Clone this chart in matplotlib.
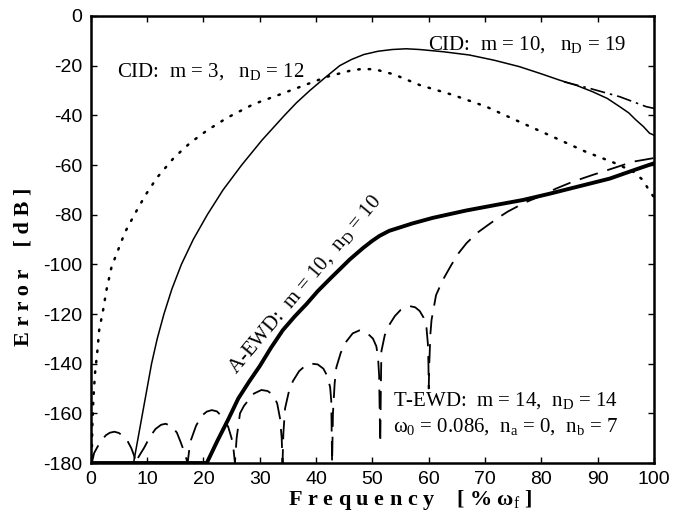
import matplotlib
matplotlib.use("Agg")
import matplotlib.pyplot as plt

plt.rcParams['font.family'] = ['Liberation Serif', 'DejaVu Serif']
plt.rcParams['mathtext.fontset'] = 'custom'
plt.rcParams['mathtext.rm'] = 'Liberation Serif'
plt.rcParams['mathtext.it'] = 'Liberation Serif:italic'
plt.rcParams['axes.unicode_minus'] = False

# CID: m = 3, nD = 12 (dotted)
cid3_x = [0.18, 0.28, 0.46, 0.76, 1.2, 1.5, 2.2, 2.8, 3.7, 4.9, 6.1, 8.0, 9.75, 11.8,
          14.8, 17.7, 20.7, 24.2, 28.9, 33.7, 37.8, 41.9, 46.1, 48.2, 50.5, 53.8, 58.4,
          64.3, 70.2, 76.1, 82.0, 87.9, 92.7, 96.2, 98.0, 99.2, 100]
cid3_y = [-177.5, -165.4, -154.6, -143.9, -134.5, -126.5, -118.4, -110.3, -101, -94,
          -87, -79, -72, -65, -57, -51, -46, -41, -35.5, -31.5, -28, -24.5, -22, -21.3,
          -21.5, -23.5, -27.8, -31.8, -36.5, -42.6, -48.6, -54.7, -58.9, -62.5, -66,
          -70.5, -73]

# CID: m = 10, nD = 19 (thin solid)
cid10_x = [0, 7.6, 8.4, 9.2, 10, 10.8, 11.8, 13, 14.4, 16.1, 18.2, 20.7, 23.5, 26.8,
           30.4, 34.4, 36.5, 38.9, 41.5, 44.2, 46.3, 48.5, 51, 53.5, 56, 58.4, 62.6,
           67.2, 71.6, 76.1, 80, 83.2, 86.3, 89.1, 91.7, 93.9, 95.5, 96.8, 98.1, 99.2,
           100]
cid10_y = [-180, -180, -170, -160, -150, -140, -130, -120, -110, -100, -90, -80, -70,
           -60, -50, -40, -35, -30, -25, -20, -17.5, -15.5, -14.2, -13.5, -13.2, -13.5,
           -14.4, -15.7, -17.8, -20.4, -23.3, -25.8, -28, -30.5, -33.2, -36.5, -39,
           -41.9, -44.5, -47.2, -48]

# CID variant near the band edge (dash-dot)
cidb_x = [84, 88.5, 93.9, 98.6, 100]
cidb_y = [-26.5, -29.1, -32.5, -36.5, -37.2]

# A-EWD: m = 10, nD = 10 (thick solid)
aewd_x = [0, 20.6, 22.5, 24.4, 26.2, 28.1, 30, 32, 34.1, 36.2, 38.3, 40.3, 42.4, 44.2,
          46, 48.3, 50, 51.3, 53, 54.8, 57, 60.7, 66.7, 72.6, 76.7, 81.4, 85.6, 92.1,
          97.4, 100]
aewd_y = [-180, -180, -171, -162.5, -154, -147.3, -141, -133.6, -126.5, -121, -116,
          -110.8, -106, -102, -98, -93.5, -90.5, -88.5, -86.5, -85.2, -83.6, -81.3,
          -78.3, -75.8, -74.1, -71.6, -69.2, -65.5, -61.3, -59.3]

# T-EWD: m = 14, nD = 14 (dashed)
tewd_x = [0.2, 0.6, 1.2, 2.06, 2.7, 3.4, 4.2, 5.0, 5.8, 6.5, 7.2, 7.7, 8.0,
          8.5, 9.5, 10.5, 11.5, 12.5, 13.3, 14.4, 15.3, 16.0, 16.6, 17.2,
          17.5, 17.8, 18.7, 19.7, 20.6, 21.5, 22.4, 23.4, 24.4, 25.0, 25.3, 25.6,
          25.9, 26.5, 27.2, 27.9, 29.0, 30.3, 31.4, 32.4, 33.1, 33.6, 33.9, 34.05,
          34.2, 34.5, 35.2, 35.9, 37.0, 38.0, 39.2, 40.3, 41.3, 42.0, 42.5, 42.7, 42.85,
          43.0, 43.3, 43.6, 44.4, 45.4, 46.5, 47.7, 48.9, 50.1, 50.7, 51.0, 51.2, 51.3,
          51.4, 51.5, 51.6, 52.2, 53.1, 54.0, 55.0, 56.6, 57.6, 58.4, 59.1, 59.6, 59.85,
          59.95, 60.0, 60.1, 60.3, 60.5, 61.3, 62.5, 64.0, 65.3, 66.7, 68.5, 70.5, 72.3,
          74.0, 77.0, 80.3, 82.6, 85.6, 89.1, 93.3, 96.2, 100]
tewd_y = [-180, -176, -173.5, -170.5, -168.8, -167.8, -167.4, -167.9, -169.3, -171,
          -174, -177, -180,
          -177.5, -173.8, -169.5, -166.3, -164.6, -164.2, -165.2, -167.8, -171.8,
          -175.5, -180,
          -174.5, -170.7, -165, -161, -159.3, -158.7, -159.2, -161.5, -165.4, -170,
          -173.4, -180,
          -170, -160, -157, -155, -152, -150.6, -151, -152.6, -156, -162, -170, -180,
          -168, -158, -151, -147, -143, -141, -140, -140.3, -142, -145, -149.5, -155,
          -180,
          -160, -148, -141.5, -135.5, -131, -127.8, -126.6, -127.3, -129.9, -133,
          -137.3, -145, -160, -172,
          -150, -135, -128.5, -124, -120.8, -118.4, -116.8, -117.3, -118.8, -121.5,
          -125.5, -132, -140, -150,
          -140, -128, -122.4, -112.4, -106.3, -100.3, -95.5, -91.5, -87.5, -84.2,
          -81.3, -78.8, -75.2, -72.1, -69.5, -66.7, -64, -60.9, -58.7, -57.2]

x_ticks = list(range(0, 101, 10))
y_ticks = list(range(-180, 1, 20))

fig = plt.figure(figsize=(6.74, 5.21), dpi=100)
ax = fig.add_axes([0.1346, 0.1113, 0.8358, 0.858])

ax.plot(cid3_x, cid3_y, color='black', lw=1.8, linestyle=(0, (0.6, 3.6)),
        dash_capstyle='round')
ax.plot(cid10_x, cid10_y, color='black', lw=1.1)
ax.plot(cidb_x, cidb_y, color='black', lw=1.2, linestyle=(0, (9, 3, 1.5, 3)))
ax.plot(aewd_x, aewd_y, color='black', lw=2.8)
ax.plot(tewd_x, tewd_y, color='black', lw=1.3, linestyle=(0, (10.5, 5.5)))

ax.set_xlim(0, 100)
ax.set_ylim(-180, 0)
ax.set_xticks(x_ticks)
ax.set_yticks(y_ticks)
ax.tick_params(direction='in', length=4, width=1, top=True, right=True,
               labelsize=14, pad=6)
for lab in ax.get_xticklabels() + ax.get_yticklabels():
    lab.set_family(['Liberation Sans', 'DejaVu Sans'])
for sp in ax.spines.values():
    sp.set_linewidth(1.8)

ax.set_xlabel('F r e q u e n c y    [ % ω$_\\mathrm{f}$ ]', fontsize=16,
              fontweight='bold')
ax.xaxis.set_label_coords(0.567, -0.055)
ax.set_ylabel('E r r o r    [ d B ]', fontsize=16, fontweight='bold')
ax.yaxis.set_label_coords(-0.102, 0.44)

fs = 15
ax.text(4.6, -24.4, 'CID:  m = 3,   n$_\\mathrm{D}$ = 12', fontsize=fs,
        ha='left', va='baseline')
ax.text(59.9, -13.7, 'CID:  m = 10,   n$_\\mathrm{D}$ = 19', fontsize=fs,
        ha='left', va='baseline')
ax.text(53.7, -156.7, 'T-EWD:  m = 14,  n$_\\mathrm{D}$ = 14', fontsize=fs,
        ha='left', va='baseline')
ax.text(53.7, -167.4, 'ω$_0$ = 0.086,  n$_\\mathrm{a}$ = 0,  n$_\\mathrm{b}$ = 7',
        fontsize=fs, ha='left', va='baseline')
ax.text(38.0, -108, 'A-EWD:  m = 10,  n$_\\mathrm{D}$ = 10', fontsize=fs,
        ha='center', va='center', rotation=50, rotation_mode='anchor')

fig.savefig('out.png', dpi=100)
